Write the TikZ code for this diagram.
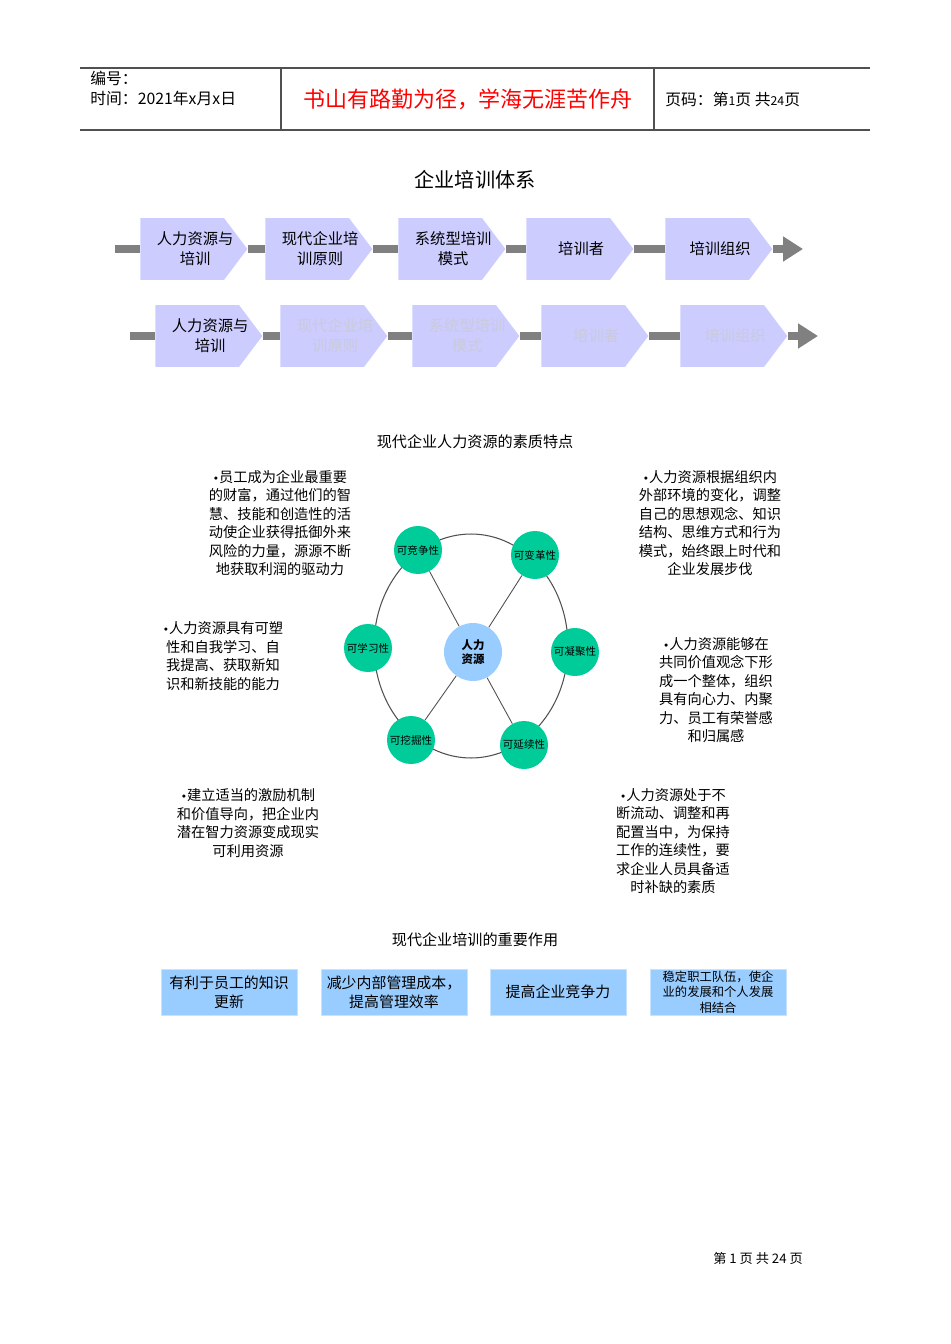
\documentclass[tikz,border=0pt]{standalone}
\usepackage{fontspec}
\setmainfont{Noto Sans CJK SC}
\newfontfamily\dotfont{DejaVu Sans}
\usetikzlibrary{positioning,arrows.meta,shapes.symbols,shapes.geometric}
\definecolor{chevfill}{HTML}{CCCCFF}
\definecolor{barfill}{HTML}{808080}
\definecolor{fadetext}{HTML}{CACADC}
\definecolor{traitfill}{HTML}{00CC99}
\definecolor{hubfill}{HTML}{99CCFF}
\definecolor{rulegray}{HTML}{505050}
\newcommand{\bul}{{\dotfont\fontsize{6}{7}\selectfont •}}
\tikzset{
  chevron/.style={signal, signal to=east, signal pointer angle=106, fill=chevfill,
    minimum width=2.14cm, minimum height=1.24cm, inner sep=0pt, anchor=west},
  chevtext/.style={align=center, xshift=0.26cm, inner sep=0pt,
    font=\fontsize{8.7}{11.3}\selectfont},
  bar/.style={draw=barfill, line width=4.5pt},
  trait/.style={circle, fill=traitfill, minimum size=0.96cm, inner sep=0pt,
    font=\fontsize{6}{7}\selectfont},
  note/.style={align=center, font=\fontsize{8.1}{10.5}\selectfont},
  rolebox/.style={rectangle, fill=hubfill, draw=hubfill!55, minimum width=2.72cm,
    minimum height=0.92cm, inner ysep=0pt, align=center, font=\fontsize{8.5}{10.8}\selectfont},
  heading/.style={font=\fontsize{8.6}{10}\selectfont},
}
\begin{document}
\begin{tikzpicture}[x=0.02cm, y=-0.02cm]
\useasboundingbox (0,0) rectangle (950,1344);

% Header table
\draw[rulegray, line width=0.6pt] (80,68) -- (870,68) (80,130) -- (870,130);
\draw[rulegray, line width=0.6pt] (281,68) -- (281,130) (654,68) -- (654,130);
\node[anchor=west, font=\fontsize{9}{10}\selectfont, inner sep=0pt] (hnum) at (90,78) {编号：};
\node[anchor=west, font=\fontsize{9}{10}\selectfont, inner sep=0pt] (hdate) at (90,98) {时间：2021年x月x日};
\node[text=red, font=\fontsize{12.5}{14}\selectfont] (motto) at (468,99) {书山有路勤为径，学海无涯苦作舟};
\node[anchor=west, font=\fontsize{9}{10}\selectfont, inner sep=0pt] (hpage) at (665,99)
  {页码：第{\fontsize{7}{8}\selectfont 1}页 共{\fontsize{7}{8}\selectfont 24}页};

% Title
\node[font=\fontsize{11.5}{13}\selectfont] (title) at (475,180) {企业培训体系};

% Chevrons, first row
\coordinate (s1) at (115,249);
\coordinate (e1) at (803,249);
\foreach \x/\t [count=\i] in {140/{人力资源与\\培训}, 265/{现代企业培\\训原则},
    398/{系统型培训\\模式}, 526/培训者, 665/培训组织} {
  \node[chevron, label={[chevtext]center:{\t}}] (c\i) at (\x,249) {};
}
\draw[bar] (s1) -- (c1.west);
\foreach \i/\j in {1/2,2/3,3/4,4/5}
  \draw[bar] (c\i.east) -- (c\j.west);
\draw[bar, -{Triangle[length=0.4cm, width=0.48cm]}] (c5.east) -- (e1);

% Chevrons, second row (only the first one active)
\coordinate (s2) at (130,336);
\coordinate (e2) at (818,336);
\node[chevron, label={[chevtext]center:{人力资源与\\培训}}] (d1) at (155,336) {};
\foreach \x/\t [count=\i from 2] in {280/{现代企业培\\训原则},
    412/{系统型培训\\模式}, 541/培训者, 680/培训组织} {
  \node[chevron, label={[chevtext, text=fadetext]center:{\t}}] (d\i) at (\x,336) {};
}
\draw[bar] (s2) -- (d1.west);
\foreach \i/\j in {1/2,2/3,3/4,4/5}
  \draw[bar] (d\i.east) -- (d\j.west);
\draw[bar, -{Triangle[length=0.4cm, width=0.48cm]}] (d5.east) -- (e2);

% Traits of human resources
\node[heading] (traits) at (475,442) {现代企业人力资源的素质特点};
\node[ellipse, draw=rulegray, line width=0.6pt, minimum width=3.88cm, minimum height=4.48cm] (ring) at (471,646) {};
\node[circle, fill=hubfill, minimum size=1.16cm, inner sep=0pt, align=center,
  font=\bfseries\fontsize{6.5}{8}\selectfont] (hub) at (473,652) {人力\\资源};
\node[trait] (q1) at (418,550) {可竞争性};
\node[trait] (q2) at (535,555) {可变革性};
\node[trait] (q3) at (368,648) {可学习性};
\node[trait] (q4) at (575,652) {可凝聚性};
\node[trait] (q5) at (411,740) {可挖掘性};
\node[trait] (q6) at (524,745) {可延续性};
\foreach \k in {1,2,5,6}
  \draw[rulegray, line width=0.5pt] (hub) -- (q\k);

% Notes round the ring
\node[note] (n1) at (280,523) {\bul 员工成为企业最重要\\的财富，通过他们的智\\慧、技能和创造性的活\\动使企业获得抵御外来\\风险的力量，源源不断\\地获取利润的驱动力};
\node[note] (n2) at (710,523) {\bul 人力资源根据组织内\\外部环境的变化，调整\\自己的思想观念、知识\\结构、思维方式和行为\\模式，始终跟上时代和\\企业发展步伐};
\node[note] (n3) at (223,656) {\bul 人力资源具有可塑\\性和自我学习、自\\我提高、获取新知\\识和新技能的能力};
\node[note] (n4) at (716,690) {\bul 人力资源能够在\\共同价值观念下形\\成一个整体，组织\\具有向心力、内聚\\力、员工有荣誉感\\和归属感};
\node[note] (n5) at (248,823) {\bul 建立适当的激励机制\\和价值导向，把企业内\\潜在智力资源变成现实\\可利用资源};
\node[note] (n6) at (673,841) {\bul 人力资源处于不\\断流动、调整和再\\配置当中，为保持\\工作的连续性，要\\求企业人员具备适\\时补缺的素质};

% Roles of training
\node[heading] (roles) at (475,940) {现代企业培训的重要作用};
\node[rolebox] (r1) at (229,992) {有利于员工的知识\\更新};
\node[rolebox] (r2) at (394,992) {减少内部管理成本，\\提高管理效率};
\node[rolebox] (r3) at (558,992) {提高企业竞争力};
\node[rolebox, font=\fontsize{7}{8.8}\selectfont] (r4) at (718,992) {稳定职工队伍，使企\\业的发展和个人发展\\相结合};

% Footer
\node[font=\fontsize{7.5}{9}\selectfont] (foot) at (758,1258) {第 1 页 共 24 页};
\end{tikzpicture}
\end{document}
